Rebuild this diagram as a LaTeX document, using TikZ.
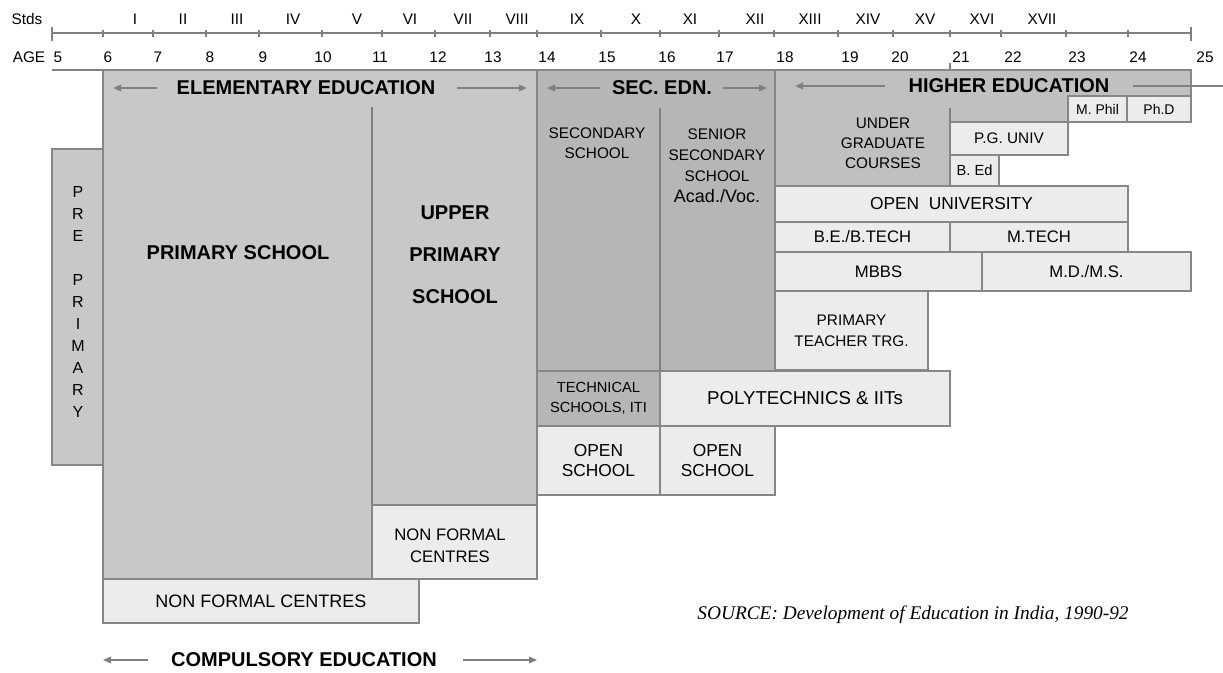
\documentclass[tikz,border=0pt]{standalone}
\usepackage{fontspec}
\setmainfont{Liberation Sans}
\newfontfamily\srcfont{Liberation Serif}
\usetikzlibrary{fit,arrows.meta}
\newcommand\fsz[2]{\fontsize{#1}{#2}\selectfont}
\definecolor{elemc}{RGB}{200,200,200}
\definecolor{secc}{RGB}{182,182,182}
\definecolor{highc}{RGB}{192,192,192}
\definecolor{lightc}{RGB}{236,236,236}
\definecolor{bordc}{RGB}{135,135,135}
\definecolor{linec}{RGB}{128,128,128}
\tikzset{
  bx/.style={draw=bordc, line width=1.4pt, inner sep=0pt, rectangle},
  lt/.style={bx, fill=lightc},
  el/.style={bx, fill=elemc},
  sc/.style={bx, fill=secc},
  axl/.style={font=\fsz{11.5}{13}, inner sep=0pt, text=black},
  hdr/.style={font=\bfseries\fsz{15}{18}, inner sep=0pt},
  txt/.style={inner sep=0pt, align=center},
  axis/.style={draw=linec, line width=1.2pt},
  harrow/.style={draw=linec, line width=1.2pt, -{Triangle[length=6pt,width=5pt]}},
  hline/.style={draw=linec, line width=1.2pt}
}
\begin{document}
\begin{tikzpicture}[x=0.75pt, y=-0.75pt]
\useasboundingbox (0,0) rectangle (1223,673);
\fill[white] (0,0) rectangle (1223,673);

% ---- axis ----
\coordinate (axL) at (52,33);
\coordinate (axR) at (1191,33);
\draw[axis] (axL) -- (axR);
\draw[axis] (52,27) -- (52,41);
\draw[axis] (1191,27) -- (1191,41);
\foreach \t in {103,153,206,259,322,382,435,490,537,601,660,719,774,838,893,950,1001,1066,1128}
  \draw[axis] (\t,30) -- (\t,37);

\node[axl] (stds) at (27,19) {Stds};
\foreach \r/\x [count=\i] in {I/135,II/183,III/237,IV/293,V/357,VI/410,VII/463,VIII/517,IX/577,X/636,XI/690,XII/755,XIII/810,XIV/868,XV/925,XVI/982,XVII/1042}
  \node[axl] (std\i) at (\x,19) {\r};
\node[axl] (age) at (29,57) {AGE};
\foreach \a/\x in {5/58,6/108,7/158,8/210,9/263,10/323,11/380,12/438,13/493,14/547,15/607,16/667,17/725,18/785,19/850,20/900,21/961,22/1013,23/1077,24/1138,25/1205}
  \node[axl] (age\a) at (\x,57) {\a};

% top line left of the boxes
\draw[axis] (52,70) -- (103,70);
\draw[axis] (950,63) -- (950,70);

% ---- elementary ----
\node[el, fit={(103,70) (537,579)}] (elem) {};
\draw[hline] (372,107) -- (372,505);
\node[el, fit={(52,149) (103,465)}] (pre) {};
\foreach \c/\n in {P/0,R/1,E/2,P/4,R/5,I/6,M/7,A/8,R/9,Y/10}
  \node[txt, font=\fsz{12}{14}] (pre\n) at (78,{192+22*\n}) {\c};

\node[lt, fit={(372,505) (537,579)}] (nfc1) {};
\node[txt, font=\fsz{12.5}{16.5}] (nfc1t) at (450,546) {NON FORMAL\\CENTRES};
\node[lt, fit={(103,579) (419,623)}] (nfc2) {};
\node[txt, font=\fsz{13.5}{16}] (nfc2t) at (nfc2.center) {NON FORMAL CENTRES};

\node[hdr] (elemh) at (306,88) {ELEMENTARY EDUCATION};
\coordinate (elemA) at (113,88);
\coordinate (elemAs) at (157,88);
\coordinate (elemB) at (527,88);
\coordinate (elemBs) at (457,88);
\draw[harrow] (elemAs) -- (elemA);
\draw[harrow] (elemBs) -- (elemB);

\node[txt, font=\bfseries\fsz{15}{18}] (prim) at (238,253) {PRIMARY SCHOOL};
\node[txt, font=\bfseries\fsz{15}{31.5}] (uprim) at (455,255) {UPPER\\PRIMARY\\SCHOOL};

% ---- secondary ----
\node[sc, fit={(537,70) (775,371)}] (sec) {};
\draw[hline] (660,108) -- (660,371);
\node[hdr] (sech) at (662,88) {SEC. EDN.};
\coordinate (secA) at (547,88);
\coordinate (secAs) at (600,88);
\coordinate (secB) at (767,88);
\coordinate (secBs) at (723,88);
\draw[harrow] (secAs) -- (secA);
\draw[harrow] (secBs) -- (secB);

\node[txt, font=\fsz{11.5}{15}] (secs) at (597,143) {SECONDARY\\SCHOOL};
\node[txt, font=\fsz{11.5}{15.75}] (ssec) at (717,166) {SENIOR\\SECONDARY\\SCHOOL\\{\fsz{13.5}{15.75}Acad./Voc.}};

\node[sc, fit={(537,371) (660,426)}] (tech) {};
\node[txt, font=\fsz{11}{15}] (techt) at (tech.center) {TECHNICAL\\SCHOOLS, ITI};
\node[lt, fit={(660,371) (950,426)}] (poly) {};
\node[txt, font=\fsz{14}{16}] (polyt) at (poly.center) {POLYTECHNICS \& IITs};
\node[lt, fit={(537,426) (660,495)}] (os1) {};
\node[txt, font=\fsz{13}{15}] (os1t) at (os1.center) {OPEN\\SCHOOL};
\node[lt, fit={(660,426) (775,495)}] (os2) {};
\node[txt, font=\fsz{13}{15}] (os2t) at (os2.center) {OPEN\\SCHOOL};

% ---- higher ----
\draw[draw=bordc, line width=1.4pt, fill=highc]
  (775,70) -- (1191,70) -- (1191,96) -- (1068,96) -- (1068,122) -- (950,122) -- (950,186) -- (775,186) -- cycle;
\draw[hline] (950,108) -- (950,122);
\node[hdr] (highh) at (1009,86) {HIGHER EDUCATION};
\coordinate (highA) at (795,86);
\coordinate (highAs) at (885,86);
\coordinate (highB) at (1223,86);
\coordinate (highBs) at (1133,86);
\draw[harrow] (highAs) -- (highA);
\draw[hline] (highBs) -- (highB);

\node[txt, font=\fsz{11.5}{15}] (ug) at (883,143) {UNDER\\GRADUATE\\COURSES};
\node[lt, fit={(1068,96) (1127,122)}] (mphil) {};
\node[txt, font=\fsz{10.5}{12}] (mphilt) at (mphil.center) {M. Phil};
\node[lt, fit={(1127,96) (1191,122)}] (phd) {};
\node[txt, font=\fsz{10.5}{12}] (phdt) at (phd.center) {Ph.D};
\node[lt, fit={(950,122) (1068,155)}] (pg) {};
\node[txt, font=\fsz{11.5}{13}] (pgt) at (pg.center) {P.G. UNIV};
\node[lt, fit={(950,155) (999,186)}] (bed) {};
\node[txt, font=\fsz{11}{13}] (bedt) at (bed.center) {B. Ed};
\node[lt, fit={(775,186) (1128,222)}] (ou) {};
\node[txt, font=\fsz{13}{15}] (out) at (ou.center) {OPEN\ \ UNIVERSITY};
\node[lt, fit={(775,222) (950,252)}] (be) {};
\node[txt, font=\fsz{12.5}{14}] (bet) at (be.center) {B.E./B.TECH};
\node[lt, fit={(950,222) (1128,252)}] (mtech) {};
\node[txt, font=\fsz{12.5}{14}] (mtecht) at (mtech.center) {M.TECH};
\node[lt, fit={(775,252) (982,291)}] (mbbs) {};
\node[txt, font=\fsz{12.5}{14}] (mbbst) at (mbbs.center) {MBBS};
\node[lt, fit={(982,252) (1191,291)}] (md) {};
\node[txt, font=\fsz{12.5}{14}] (mdt) at (md.center) {M.D./M.S.};
\node[lt, fit={(775,291) (928,370)}] (ptt) {};
\node[txt, font=\fsz{11.5}{15.75}] (pttt) at (ptt.center) {PRIMARY\\TEACHER TRG.};

% ---- bottom ----
\node[hdr] (comp) at (304,660) {COMPULSORY EDUCATION};
\coordinate (compA) at (103,660);
\coordinate (compAs) at (148,660);
\coordinate (compB) at (537,660);
\coordinate (compBs) at (463,660);
\draw[harrow] (compAs) -- (compA);
\draw[harrow] (compBs) -- (compB);

\node[inner sep=0pt, font=\srcfont\itshape\fsz{14.5}{17}] (src) at (913,615) {SOURCE: Development of Education in India, 1990-92};
\end{tikzpicture}
\end{document}
